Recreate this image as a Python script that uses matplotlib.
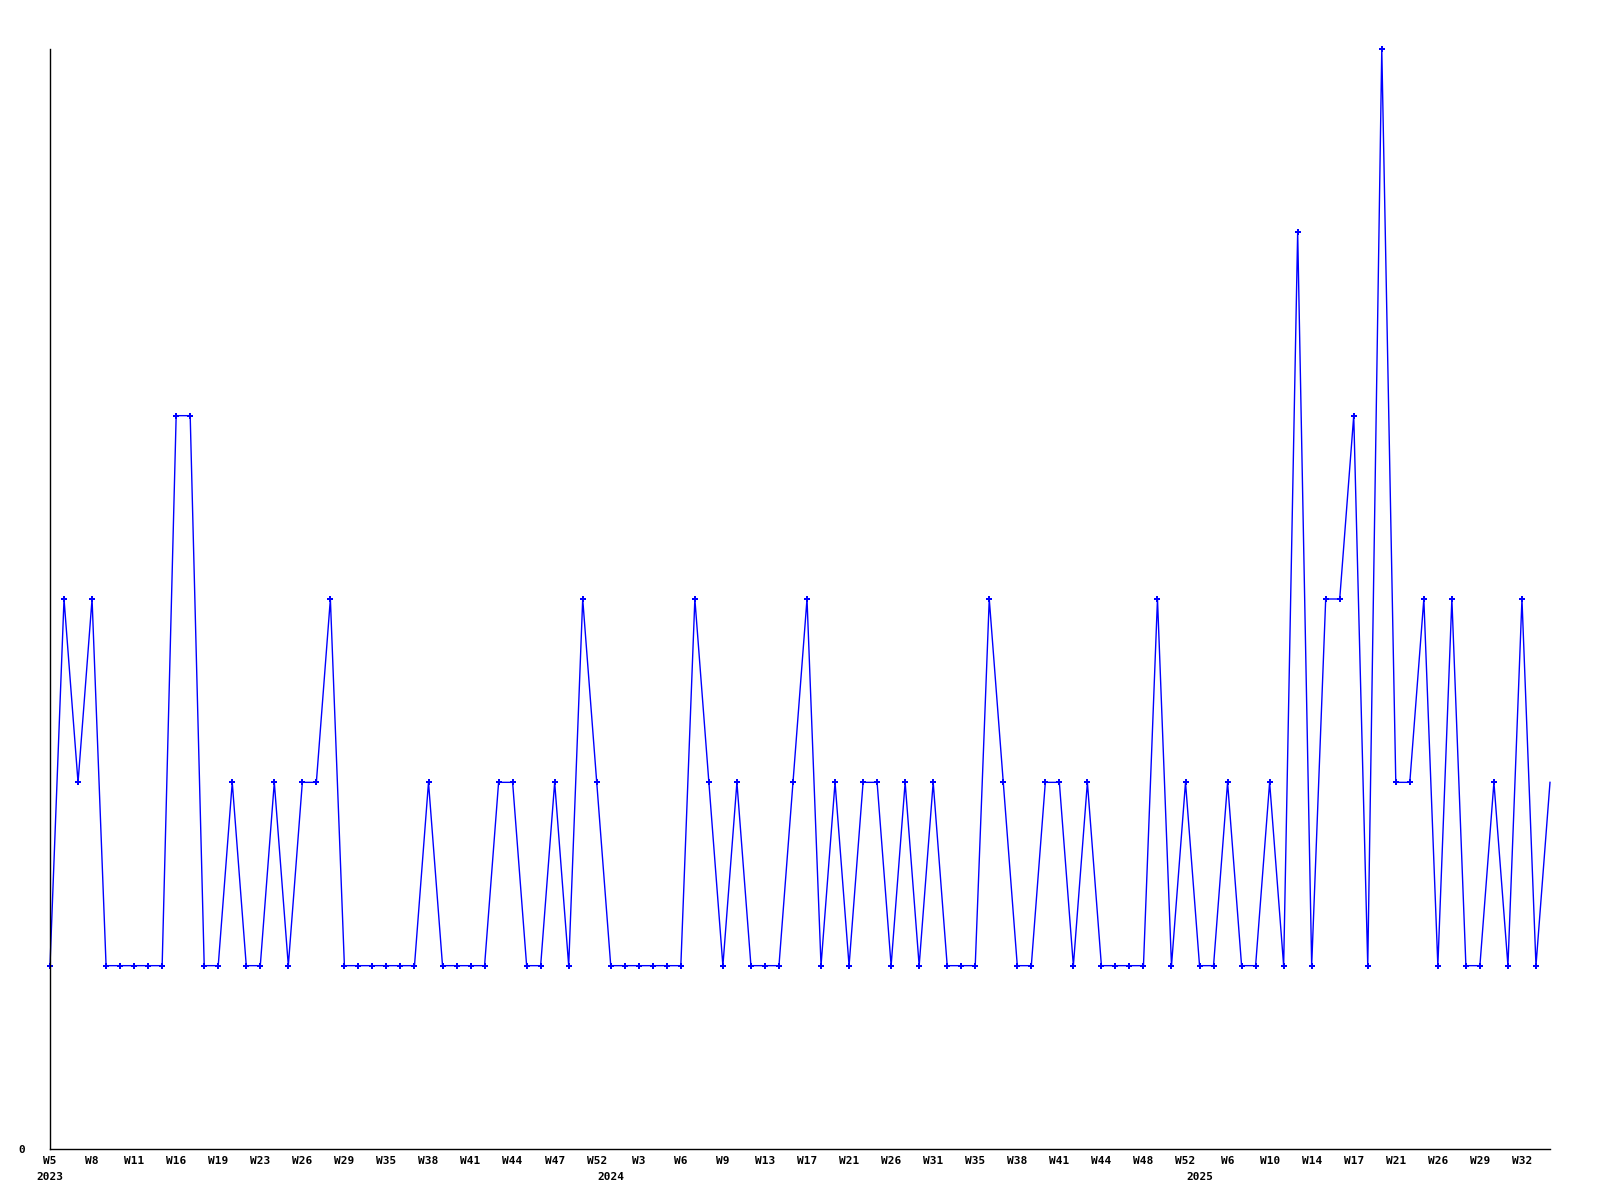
import numpy as np
import matplotlib
matplotlib.use("Agg")
import matplotlib.pyplot as plt

# weekly counts, one entry per week that has data
counts = [
    1, 3, 2, 3, 1, 1, 1, 1, 1, 4, 4, 1, 1, 2, 1, 1, 2, 1, 2, 2,
    3, 1, 1, 1, 1, 1, 1, 2, 1, 1, 1, 1, 2, 2, 1, 1, 2, 1, 3, 2,
    1, 1, 1, 1, 1, 1, 3, 2, 1, 2, 1, 1, 1, 2, 3, 1, 2, 1, 2, 2,
    1, 2, 1, 2, 1, 1, 1, 3, 2, 1, 1, 2, 2, 1, 2, 1, 1, 1, 1, 3,
    1, 2, 1, 1, 2, 1, 1, 2, 1, 5, 1, 3, 3, 4, 1, 6, 2, 2, 3, 1,
    3, 1, 1, 2, 1, 3, 1, 2,
]

# every third point gets a week label
week_labels = [
    "W5", "W8", "W11", "W16", "W19", "W23", "W26", "W29", "W35", "W38",
    "W41", "W44", "W47", "W52", "W3", "W6", "W9", "W13", "W17", "W21",
    "W26", "W31", "W35", "W38", "W41", "W44", "W48", "W52", "W6", "W10",
    "W14", "W17", "W21", "W26", "W29", "W32",
]
label_step = 3

# first point of each year
years = ["2023", "2024", "2025"]
year_start_idx = [0, 40, 82]

font = {"family": "DejaVu Sans Mono", "weight": "bold", "size": 8}

fig = plt.figure(figsize=(16, 12), dpi=100)
ax = fig.add_axes([50 / 1600, 51 / 1200, 1500 / 1600, 1100 / 1200])

x = np.arange(len(counts))
ax.plot(x, counts, color="#0000ff", linewidth=1.0, marker="P",
        markersize=4.5, markeredgewidth=0, markevery=slice(0, -1),
        clip_on=False)

ax.set_xlim(0, len(counts) - 1)
ax.set_ylim(0, max(counts))

ax.set_xticks(x[::label_step])
ax.set_xticklabels(week_labels, fontdict=font)
ax.set_yticks([0])
ax.set_yticklabels(["0"], fontdict=font)
ax.tick_params(axis="both", length=0)
ax.tick_params(axis="x", pad=5)
ax.tick_params(axis="y", pad=18)

for yr, idx in zip(years, year_start_idx):
    ax.text(idx, -0.021, yr, transform=ax.get_xaxis_transform(),
            ha="center", va="top", **font)

for side in ["top", "right"]:
    ax.spines[side].set_visible(False)
ax.spines["left"].set_linewidth(1)
ax.spines["bottom"].set_linewidth(1)

fig.savefig("out.png", dpi=100)
